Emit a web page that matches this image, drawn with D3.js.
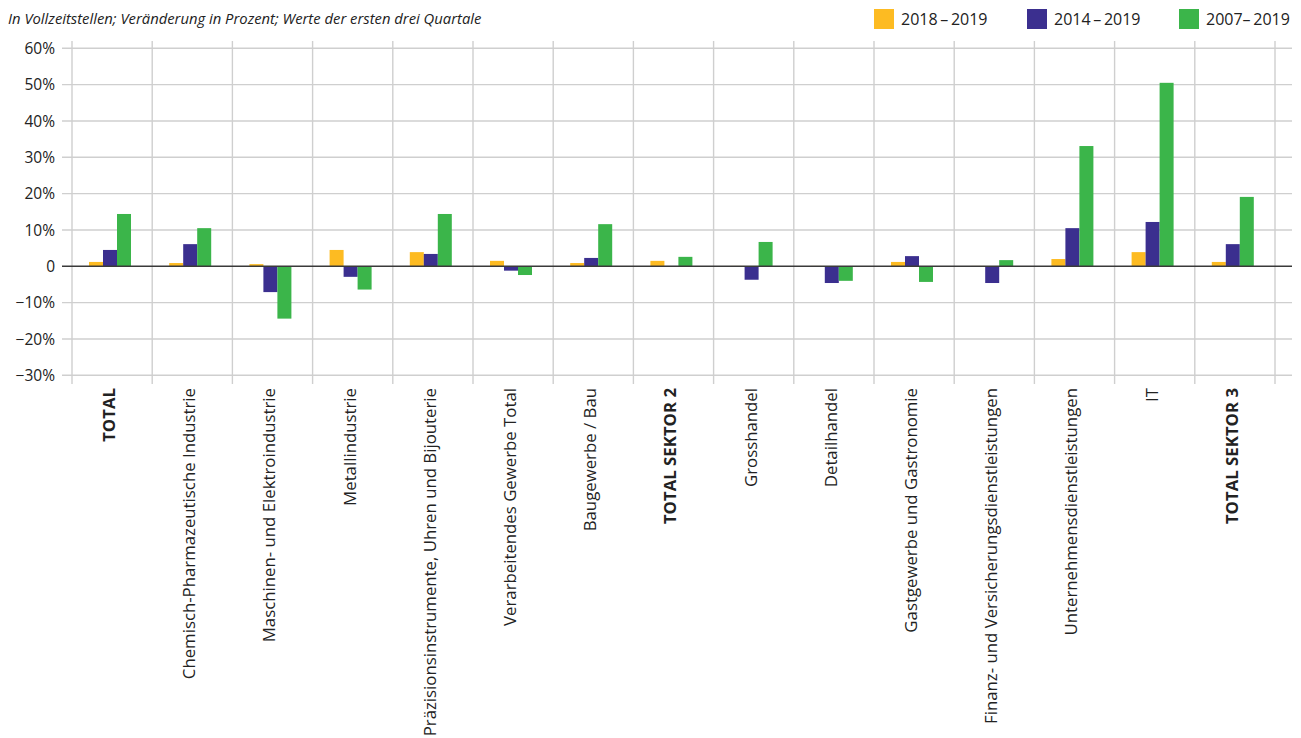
<!DOCTYPE html>
<html><head><meta charset="utf-8">
<script src="https://cdn.jsdelivr.net/npm/d3@7"></script>
<style>
body{margin:0;background:#fff;}
svg{display:block;font-family:"Open Sans","Noto Sans",sans-serif;}
</style></head>
<body>
<svg id="c" width="1301" height="738"></svg>
<script>
const categories = ["TOTAL","Chemisch-Pharmazeutische Industrie","Maschinen- und Elektroindustrie","Metallindustrie","Präzisionsinstrumente, Uhren und Bijouterie","Verarbeitendes Gewerbe Total","Baugewerbe / Bau","TOTAL SEKTOR 2","Grosshandel","Detailhandel","Gastgewerbe und Gastronomie","Finanz- und Versicherungsdienstleistungen","Unternehmensdienstleistungen","IT","TOTAL SEKTOR 3"];
const boldCategories = ["TOTAL","TOTAL SEKTOR 2","TOTAL SEKTOR 3"];
const seriesNames = ["2018\u2009–\u20092019","2014\u2009–\u20092019","2007–\u20092019"];
const seriesColors = ["#FDBB22","#3B2F8F","#3BB54A"];
const values2018_2019 = [1.2,0.9,0.6,4.5,3.9,1.5,0.9,1.5,0.1,0.1,1.2,0.1,2.0,3.9,1.2];
const values2014_2019 = [4.5,6.1,-7.1,-2.9,3.4,-1.2,2.3,0.1,-3.7,-4.6,2.8,-4.6,10.5,12.2,6.1];
const values2007_2019 = [14.4,10.5,-14.4,-6.4,14.4,-2.4,11.6,2.6,6.7,-4.0,-4.3,1.7,33.1,50.5,19.1];
const yTicks = [-30,-20,-10,0,10,20,30,40,50,60];
const title = "In Vollzeitstellen; Veränderung in Prozent; Werte der ersten drei Quartale";

const series = [values2018_2019, values2014_2019, values2007_2019];
const svg = d3.select("#c");

const x = d3.scaleBand().domain(categories).range([72, 1275]).paddingInner(0).paddingOuter(0);
const xs = d3.scaleBand().domain([0,1,2]).range([17, 59]).padding(0);
const y = d3.scaleLinear().domain([-30, 60]).range([375.3, 48.3]);

const grid = svg.append("g");
grid.selectAll("line.h").data(yTicks.filter(d=>d!==0)).join("line")
  .attr("x1", 62).attr("x2", 1292)
  .attr("y1", d=>y(d)).attr("y2", d=>y(d))
  .attr("stroke", "#cfcfcf").attr("stroke-width", 1.4);
const bounds = categories.map(c=>x(c)).concat([x.range()[1]]);
grid.selectAll("line.v").data(bounds).join("line")
  .attr("x1", d=>d).attr("x2", d=>d)
  .attr("y1", 41).attr("y2", 384)
  .attr("stroke", "#cfcfcf").attr("stroke-width", 1.4);

series.forEach((vals, si) => {
  svg.append("g").selectAll("rect").data(vals).join("rect")
    .attr("x", (d,i)=>x(categories[i]) + xs(si))
    .attr("width", xs.bandwidth())
    .attr("y", d=>y(Math.max(0,d)))
    .attr("height", d=>Math.abs(y(d)-y(0)))
    .attr("fill", seriesColors[si]);
});

svg.append("line").attr("x1", 62).attr("x2", 1292)
  .attr("y1", y(0)).attr("y2", y(0))
  .attr("stroke", "#3a3a3a").attr("stroke-width", 1.5);

const fmt = d => d === 0 ? "0" : (d < 0 ? "\u2212" + Math.abs(d) : d) + "%";
svg.append("g").selectAll("text").data(yTicks).join("text")
  .attr("x", 55).attr("y", d=>y(d)).attr("dy", "0.36em")
  .attr("text-anchor", "end").attr("font-size", 15.5).attr("fill", "#222")
  .text(fmt);

svg.append("g").selectAll("text").data(categories).join("text")
  .attr("transform", d=>`translate(${x(d)+37},388) rotate(-90)`)
  .attr("dy", "0.36em")
  .attr("text-anchor", "end").attr("font-size", 16.8).attr("fill", "#222")
  .attr("font-weight", d=>boldCategories.includes(d) ? "bold" : "normal")
  .text(d=>d);

svg.append("text").attr("x", 8).attr("y", 24)
  .attr("font-size", 14.8).attr("font-style", "italic").attr("fill", "#222")
  .text(title);

const legendX = [874, 1027, 1179];
const lg = svg.append("g").selectAll("g").data(seriesNames).join("g")
  .attr("transform", (d,i)=>`translate(${legendX[i]},9)`);
lg.append("rect").attr("width", 20).attr("height", 20).attr("fill", (d,i)=>seriesColors[i]);
lg.append("text").attr("x", 27).attr("y", 10).attr("dy", "0.36em")
  .attr("font-size", 16).attr("fill", "#222").text(d=>d);
</script>
</body></html>
